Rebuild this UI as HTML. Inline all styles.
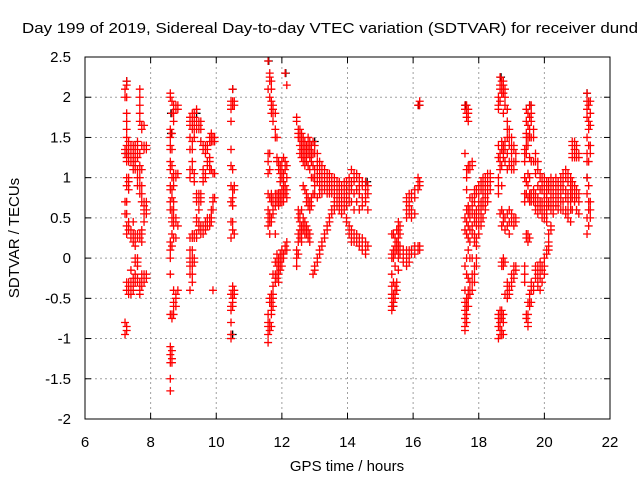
<!DOCTYPE html>
<html><head><meta charset="utf-8"><style>
html,body{margin:0;padding:0;background:#fff;overflow:hidden}
svg{display:block;font-family:"Liberation Sans",sans-serif}
</style></head><body>
<svg id="chart" width="640" height="480" viewBox="0 0 640 480">
<rect x="0" y="0" width="640" height="480" fill="#fff"/>
<text x="22" y="33" font-size="15" textLength="616" lengthAdjust="spacingAndGlyphs" fill="#000">Day 199 of 2019, Sidereal Day-to-day VTEC variation (SDTVAR) for receiver dund</text>
<g id="grid"></g>
<g id="blackpts"></g>
<g id="redpts"></g>
<g id="axes"></g>
<text x="347" y="471" font-size="15" text-anchor="middle">GPS time / hours</text>
<text transform="translate(19,238) rotate(-90)" font-size="15" text-anchor="middle">SDTVAR / TECUs</text>
</svg>
<script>
const xTicks=[6,8,10,12,14,16,18,20,22];
const yTicks=[-2,-1.5,-1,-0.5,0,0.5,1,1.5,2,2.5];
const yTickLabels=["-2","-1.5","-1","-0.5","0","0.5","1","1.5","2","2.5"];
// red series: columns [x, [y values]]
const redCols=[
[7.22,[2.1,2.0,1.35,1.3,0.7,0.55,-0.8,-0.95]],
[7.27,[2.2,2.15,2.0,1.8,1.7,1.6,1.5,1.4,1.35,1.25,1.2,1.0,0.9,0.7,0.55,0.4,0.3,-0.3,-0.4,-0.85,-0.9]],
[7.33,[1.45,1.35,1.3,1.2,1.0,0.95,0.85,0.45,0.35,-0.3,-0.35,-0.4,-0.45]],
[7.4,[1.4,1.35,1.3,1.25,1.2,0.35,0.3,0.25,-0.15,-0.3,-0.35,-0.4,-0.45]],
[7.47,[1.4,1.35,1.3,1.2,1.15,1.1,0.45,0.3,0.2,-0.25,-0.35,-0.4]],
[7.53,[1.4,1.35,1.3,1.2,1.1,0.3,0.25,0.15,0.0,-0.05,-0.2,-0.3]],
[7.6,[1.45,1.35,1.25,1.1,1.0,0.9,0.3,0.25,0.0,-0.05,-0.1,-0.25,-0.3]],
[7.67,[2.1,2.0,1.9,1.8,1.7,1.3,1.15,1.1,1.0,0.9,0.8,0.3,0.25,-0.3,-0.4,-0.45]],
[7.73,[1.65,1.6,1.4,1.1,0.9,0.8,0.7,0.35,0.3,0.2,-0.2,-0.3,-0.35]],
[7.8,[1.65,1.4,1.35,0.7,0.65,0.6,0.55,0.45,-0.25,-0.3,-0.2]],
[7.87,[1.4,1.35,0.7,0.6,0.55,-0.25,-0.2]],
[8.6,[2.05,2.0,1.6,1.5,1.4,1.35,1.2,1.1,0.9,0.85,0.7,0.6,0.2,0.1,0.0,-0.2,-0.7,-1.1,-1.2,-1.3,-1.5,-1.65]],
[8.65,[1.95,1.8,1.55,1.35,1.15,1.0,0.85,0.75,0.6,0.5,0.45,0.3,0.15,-0.7,-0.75,-1.15,-1.25,-1.3]],
[8.7,[1.9,1.8,1.7,1.05,1.0,0.9,0.7,0.6,0.5,0.4,0.25,-0.4,-0.55,-0.6,-0.7]],
[8.77,[1.9,1.85,1.05,1.0,0.5,0.45,0.25,-0.45,-0.5,-0.6]],
[8.83,[1.9,1.85,1.05,0.4,-0.4]],
[9.2,[1.75,1.7,1.65,1.5,1.35,1.1,1.0,0.25,0.1,0.0,-0.05,-0.1,-0.2,-0.4]],
[9.27,[1.8,1.7,1.65,1.6,1.45,1.35,1.2,1.1,0.3,0.25,0.1,0.0,-0.1,-0.2,-0.3]],
[9.33,[1.8,1.75,1.65,1.6,1.5,1.05,0.95,0.3,0.25,0.0,-0.05]],
[9.4,[1.85,1.7,1.65,1.6,0.8,0.75,0.7,0.5,0.45,0.3,0.25]],
[9.47,[1.7,1.65,1.6,0.8,0.75,0.7,0.6,0.45,0.4,0.35]],
[9.53,[1.7,1.6,1.45,0.8,0.75,0.7,0.4,0.35,0.3]],
[9.6,[1.4,1.35,1.1,1.0,0.95,0.4,0.35,0.3]],
[9.67,[1.4,1.35,1.3,1.05,1.0,0.45,0.4,0.35]],
[9.73,[1.4,1.35,1.2,1.15,0.5,0.45,0.4]],
[9.8,[1.5,1.45,1.25,1.2,1.1,0.5,0.45,0.4]],
[9.85,[1.55,1.5,1.45,1.1,0.6,0.5,0.45]],
[9.9,[1.5,1.45,1.05,0.75,0.7,0.6,-0.4]],
[9.95,[1.5,1.45,1.05,0.75]],
[10.45,[1.95,1.9,1.85,1.7,1.35,1.15,0.9,0.7,0.45,0.25,-0.45,-0.6,-0.65,-0.8,-0.95,-1.0]],
[10.5,[2.1,1.95,1.9,1.1,0.85,0.75,0.65,0.45,0.35,-0.35,-0.4,-0.5,-0.55,-0.6]],
[10.55,[1.95,1.9,0.9,0.85,0.3,-0.4,-0.45]],
[11.58,[2.45,2.1,1.3,1.2,1.05,0.8,0.6,0.5,0.4,-0.7,-0.8,-0.85,-0.95,-1.05]],
[11.63,[2.3,2.25,2.2,2.0,1.3,1.1,0.75,0.55,0.45,0.3,-0.5,-0.55,-0.8,-0.85,-0.9]],
[11.68,[2.2,2.1,1.95,1.9,1.8,0.8,0.7,0.5,0.45,-0.45,-0.55,-0.65,-0.7,-0.85]],
[11.73,[1.9,1.85,1.8,1.7,0.75,0.7,0.6,0.55,-0.2,-0.35,-0.45,-0.5,-0.6]],
[11.8,[1.8,1.6,1.5,0.8,0.75,0.7,0.65,0.3,-0.05,-0.2,-0.25,-0.3]],
[11.85,[1.5,1.25,1.2,0.8,0.75,0.7,0.05,0.0,-0.1,-0.2,-0.25]],
[11.9,[1.2,1.1,0.8,0.75,0.7,0.65,0.0,-0.1,-0.2,-0.3]],
[11.95,[1.15,1.05,0.95,0.8,0.75,0.7,0.05,-0.05,-0.15]],
[12.0,[1.2,1.1,1.0,0.85,0.75,0.7,0.1,0.0,-0.1]],
[12.05,[1.25,1.05,0.95,0.9,0.8,0.7,0.05,0.0]],
[12.1,[2.3,1.2,1.1,0.9,0.8,0.15,0.1]],
[12.15,[2.15,1.15,1.0,0.85,0.75,0.2,0.1]],
[12.45,[1.75,1.7,0.1,0.0,-0.1]],
[12.5,[1.6,1.55,1.5,0.6,0.5,0.3,0.2,0.05]],
[12.55,[1.6,1.5,1.4,1.3,0.55,0.45,0.35,0.25]],
[12.6,[1.55,1.45,1.35,1.25,0.6,0.4,0.3,0.2]],
[12.65,[1.5,1.4,1.3,1.2,0.9,0.5,0.4,0.35]],
[12.7,[1.45,1.35,1.25,1.15,0.85,0.45,0.35,0.3]],
[12.75,[1.4,1.35,1.3,1.2,0.8,0.7,0.4,0.3]],
[12.8,[1.5,1.4,1.3,1.15,0.75,0.65,0.35,0.25]],
[12.85,[1.45,1.35,1.25,1.1,0.7,0.6,0.3,0.2]],
[12.9,[1.4,1.3,1.2,1.0,0.75,0.65]],
[12.95,[1.45,1.3,1.15,1.0,0.8,-0.2]],
[13.0,[1.4,1.3,1.1,1.0,0.9,0.8,-0.1,-0.15]],
[13.08,[1.3,1.2,1.1,1.0,0.95,0.75,0.0,-0.05]],
[13.15,[1.2,1.1,1.05,0.95,0.9,0.8,0.1,0.05]],
[13.22,[1.15,1.05,1.0,0.95,0.85,0.8,0.2,0.15]],
[13.3,[1.1,1.05,1.0,0.9,0.85,0.25,0.3]],
[13.38,[1.05,1.0,0.95,0.85,0.8,0.35,0.4]],
[13.45,[1.05,1.0,0.9,0.85,0.8,0.45,0.5]],
[13.52,[1.0,0.95,0.9,0.8,0.55,0.6]],
[13.6,[1.0,0.95,0.85,0.8,0.7,0.6,0.65]],
[13.68,[0.95,0.9,0.85,0.75,0.7,0.65]],
[13.75,[0.95,0.9,0.8,0.7,0.65,0.6]],
[13.82,[0.9,0.85,0.75,0.7,0.6,0.55]],
[13.9,[0.95,0.85,0.8,0.7,0.6]],
[13.97,[0.95,0.9,0.8,0.75,0.65,0.5,0.45]],
[14.05,[1.0,0.9,0.8,0.7,0.4,0.35,0.3]],
[14.12,[1.1,0.95,0.85,0.7,0.35,0.25,0.2]],
[14.2,[1.05,0.95,0.8,0.6,0.3,0.25,0.2]],
[14.28,[1.05,1.0,0.85,0.7,0.3,0.2]],
[14.36,[1.0,0.9,0.8,0.6,0.25,0.15]],
[14.45,[0.95,0.9,0.75,0.65,0.25,0.2,0.1]],
[14.55,[0.95,0.85,0.75,0.7,0.2,0.1,0.05]],
[14.62,[0.9,0.8,0.6,0.15]],
[15.35,[0.3,0.05,0.0,-0.2,-0.35,-0.45,-0.5,-0.6,-0.65]],
[15.4,[0.3,0.1,0.0,-0.3,-0.45,-0.5,-0.55,-0.6]],
[15.45,[0.25,0.15,0.05,-0.1,-0.35,-0.45,-0.5]],
[15.5,[0.35,0.2,0.15,0.1,-0.3,-0.4]],
[15.55,[0.45,0.35,0.25,0.15,0.1,0.0,-0.15]],
[15.6,[0.4,0.3,0.15,0.1,0.05]],
[15.7,[0.1,0.05,0.0,-0.05]],
[15.8,[0.75,0.7,0.6,0.5,0.1,0.05,0.0,-0.1]],
[15.88,[0.8,0.7,0.65,0.55,0.1,0.05,-0.05]],
[15.95,[0.8,0.75,0.6,0.5,0.1,0.05]],
[16.05,[0.85,0.75,0.55,0.15,0.1,0.05]],
[16.15,[1.0,0.9,0.85,0.15,0.1,1.9]],
[16.2,[0.95,0.9,0.1,0.15,1.95,1.9]],
[17.58,[1.9,1.85,1.3,0.5,0.35,-0.1,-0.4,-0.55,-0.65,-0.75,-0.85,-0.9]],
[17.63,[1.9,1.8,1.75,1.1,1.0,0.85,0.6,0.45,0.3,0.0,-0.2,-0.5,-0.6,-0.7,-0.8]],
[17.68,[1.85,1.8,1.7,1.15,1.1,0.65,0.55,0.4,0.25,0.1,-0.25,-0.4,-0.5,-0.6]],
[17.73,[1.15,1.1,0.75,0.6,0.5,0.35,0.2,0.0,-0.3,-0.4,-0.45]],
[17.8,[1.2,1.15,0.75,0.65,0.55,0.4,0.3,0.0,-0.2,-0.3,-0.4]],
[17.87,[0.85,0.8,0.7,0.55,0.45,0.3,0.2,-0.1,-0.2,-0.3]],
[17.93,[0.85,0.8,0.6,0.5,0.4,0.25,0.15,0.0,-0.1]],
[18.0,[0.9,0.8,0.7,0.6,0.5,0.4,0.3]],
[18.07,[0.95,0.85,0.7,0.65,0.55,0.45,0.4]],
[18.13,[1.0,0.9,0.8,0.7,0.65,0.5]],
[18.2,[1.0,0.95,0.85,0.75,0.7,0.6]],
[18.27,[1.05,1.0,0.9,0.8,0.7]],
[18.35,[1.05,1.0,0.95,0.85]],
[18.6,[2.0,1.9,1.85,1.4,1.25,1.0,0.9,0.8,-0.7,-0.75,-0.85,-1.0]],
[18.65,[2.25,2.15,2.1,1.95,1.3,1.2,1.1,0.55,-0.65,-0.7,-0.8,-0.9,-0.95]],
[18.7,[2.2,2.1,2.05,1.45,1.35,1.15,0.9,0.6,0.4,-0.05,-0.1,-0.65,-0.75,-0.9,-0.95]],
[18.75,[2.2,2.15,2.05,1.8,1.4,1.3,1.25,0.55,0.45,0.0,-0.1,-0.7,-0.8,-0.95]],
[18.8,[2.1,2.0,1.9,1.45,1.35,1.2,0.5,0.35,-0.05,-0.45]],
[18.87,[1.85,1.7,1.6,1.5,1.3,1.1,0.55,0.4,-0.3,-0.35,-0.45,-0.5]],
[18.93,[1.6,1.5,1.4,1.2,1.15,0.6,0.45,0.3,-0.35,-0.4,-0.45]],
[19.0,[1.5,1.4,1.3,1.2,1.1,0.55,0.45,-0.2,-0.3,-0.35]],
[19.07,[1.4,1.35,1.2,1.1,0.5,0.4,-0.1,-0.2,-0.25]],
[19.13,[1.3,1.2,0.5,0.45,-0.15,-0.1]],
[19.4,[1.35,1.3,1.2,1.0,0.8,0.7,-0.1,-0.2,-0.3]],
[19.45,[1.85,1.7,1.55,1.5,1.4,1.3,0.95,0.8,0.3,0.25,-0.7,-0.75]],
[19.5,[1.8,1.65,1.5,1.4,1.05,0.9,0.75,0.3,0.2,-0.55,-0.7,-0.8,-0.85]],
[19.55,[1.9,1.75,1.6,1.5,1.25,1.0,0.8,0.7,0.25,-0.45,-0.55,-0.6]],
[19.6,[1.9,1.8,1.7,1.5,1.2,0.8,0.7,-0.3,-0.35,-0.4,-0.55]],
[19.67,[1.6,1.5,1.2,0.85,0.75,0.7,-0.35,-0.4]],
[19.73,[1.3,1.2,1.05,0.8,0.7,0.6,-0.1,-0.15,-0.25]],
[19.8,[1.2,1.1,0.9,0.75,0.65,0.55,-0.1,-0.2,-0.3,-0.35]],
[19.87,[1.05,1.0,0.85,0.7,0.6,-0.05,-0.15,-0.25,-0.4]],
[19.93,[1.0,0.95,0.85,0.7,0.6,0.5,-0.1,-0.15,-0.3]],
[20.0,[1.0,0.9,0.8,0.7,0.6,0.5,0.0,-0.1,-0.2]],
[20.07,[0.95,0.85,0.75,0.65,0.55,0.45,0.1,0.05]],
[20.13,[0.95,0.85,0.7,0.65,0.3,0.2,0.15,0.1]],
[20.2,[1.0,0.9,0.8,0.7,0.6,0.4,0.35]],
[20.27,[0.95,0.85,0.75,0.65,0.55]],
[20.35,[1.0,0.9,0.8,0.7,0.65]],
[20.42,[0.95,0.85,0.75,0.7,0.6]],
[20.5,[1.0,0.9,0.8,0.7,0.6]],
[20.57,[1.05,0.95,0.85,0.7,0.6]],
[20.65,[1.1,1.0,0.85,0.75,0.6,0.55]],
[20.72,[1.05,0.95,0.8,0.7,0.6,0.5]],
[20.8,[1.0,0.9,0.8,0.7,0.6,0.45]],
[20.85,[1.45,1.4,1.3,1.25,0.95,0.85,0.75,0.6]],
[20.92,[1.45,1.35,1.25,0.9,0.8,0.7]],
[20.98,[1.4,1.3,1.25,0.85,0.75,0.6]],
[21.05,[1.3,1.25,0.8,0.7,0.55]],
[21.3,[2.05,1.95,1.85,1.75,1.5,1.3,1.2,1.0,0.8,0.5,0.3]],
[21.35,[1.95,1.9,1.7,1.6,1.4,1.2,0.9,0.7,0.6,0.4]],
[21.4,[1.95,1.8,1.65,1.4,1.3,0.7,0.6,0.5]]
];
// black series (mostly hidden under red)
const blackCols=[
[7.27,[2.2,1.3]],[8.62,[1.8,1.55]],[9.4,[1.8]],[10.5,[2.1,-0.95]],
[11.6,[2.45]],[12.12,[2.3]],[15.4,[-0.6]],[16.18,[1.9]],[17.6,[1.9]],
[18.68,[2.25]],[19.55,[1.9]],[21.3,[2.05,1.0]],[13.0,[1.45]],[14.6,[0.95]]
];
const NS='http://www.w3.org/2000/svg';
const L=85,R=610,T=57,B=419;
const xMin=6,xMax=22,yMin=-2,yMax=2.5;
function xs(v){return L+(v-xMin)/(xMax-xMin)*(R-L);}
function ys(v){return B-(v-yMin)/(yMax-yMin)*(B-T);}
function mk(tag,attrs,parent){const e=document.createElementNS(NS,tag);for(const k in attrs)e.setAttribute(k,attrs[k]);parent.appendChild(e);return e;}
const grid=document.getElementById('grid');
const axes=document.getElementById('axes');
xTicks.forEach(function(t){
  const x=xs(t);
  if(t>xMin&&t<xMax){
    const g=mk('line',{x1:x,y1:T,x2:x,y2:B,stroke:'#a0a0a0','stroke-width':1,'stroke-dasharray':'2,3'},grid);
    
    
  }
  const a=mk('line',{x1:x,y1:B,x2:x,y2:B-6,stroke:'#000'},axes);
  
  
  const b=mk('line',{x1:x,y1:T,x2:x,y2:T+6,stroke:'#000'},axes);
  
  
  const tx=mk('text',{x:x,y:B+28,'font-size':15,'text-anchor':'middle'},axes);
  tx.textContent=String(t);
  
  
});
yTicks.forEach(function(t,i){
  const y=ys(t);
  if(t>yMin&&t<yMax){
    const g=mk('line',{x1:L,y1:y,x2:R,y2:y,stroke:'#a0a0a0','stroke-width':1,'stroke-dasharray':'2,3'},grid);
    
    
  }
  const a=mk('line',{x1:L,y1:y,x2:L+6,y2:y,stroke:'#000'},axes);
  
  
  const b=mk('line',{x1:R,y1:y,x2:R-6,y2:y,stroke:'#000'},axes);
  
  
  const tx=mk('text',{x:L-14,y:y+5,'font-size':15,'text-anchor':'end'},axes);
  tx.textContent=yTickLabels[i];
  
  
});
const frame=mk('rect',{x:L,y:T,width:R-L,height:B-T,fill:'none',stroke:'#000','stroke-width':1},axes);


function drawSeries(cols,gid,color){
  const g=document.getElementById(gid);
  let d='';
  cols.forEach(function(c){
    const x=xs(c[0]);
    c[1].forEach(function(v){
      const y=ys(v);
      d+='M'+(x-4)+' '+y+'h8M'+x+' '+(y-4)+'v8';
    });
  });
  const p=mk('path',{d:d,stroke:color,'stroke-width':1.3,fill:'none'},g);
  
  
}
drawSeries(blackCols,'blackpts','#000');
drawSeries(redCols,'redpts','#ff0000');
</script>
</body></html>
